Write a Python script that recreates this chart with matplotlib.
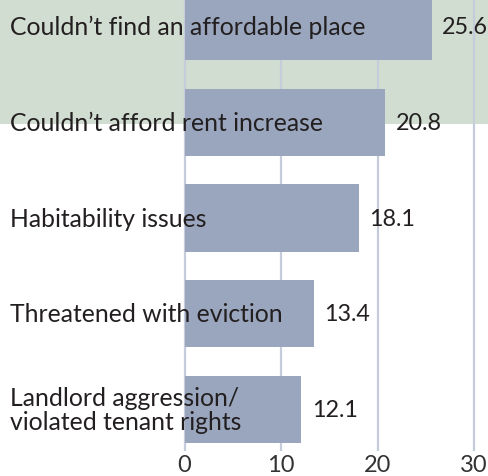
import matplotlib
matplotlib.use("Agg")
import matplotlib.pyplot as plt
from matplotlib.patches import Rectangle


CATEGORIES = [
    "Couldn\u2019t find an affordable place",
    "Couldn\u2019t afford rent increase",
    "Habitability issues",
    "Threatened with eviction",
    "Landlord aggression/\nviolated tenant rights",
]
VALUES = [25.6, 20.8, 18.1, 13.4, 12.1]
TICKS = [0, 10, 20, 30]

BAR_COLOR = "#9aa6bd"
GRID_COLOR = "#c6ccdc"
BAND_COLOR = "#d0ddd0"
TEXT_COLOR = "#231f20"
FONT = ["Lato", "DejaVu Sans"]
OUTPUT_PATH = "out.png"


def main():
    plt.rcParams["font.family"] = FONT

    fig = plt.figure(figsize=(4.89, 4.77), dpi=100)
    # axes fill the whole width; the category labels sit inside, left of zero
    ax = fig.add_axes([0, 25 / 477, 1, 452 / 477])
    ax.set_facecolor("none")

    ax.add_patch(Rectangle((0, 1 - 125 / 452), 1, 125 / 452, transform=ax.transAxes,
                           facecolor=BAND_COLOR, edgecolor="none", zorder=0))

    positions = list(range(len(VALUES)))
    for t in TICKS:
        ax.axvline(t, color=GRID_COLOR, linewidth=1.6, zorder=1)

    ax.barh(positions, VALUES, height=0.70, color=BAR_COLOR, zorder=2)

    for pos, label, value in zip(positions, CATEGORIES, VALUES):
        ax.text(-18.1, pos, label, ha="left", va="center", fontsize=17.8,
                color=TEXT_COLOR, linespacing=1.04, zorder=3)
        ax.annotate(f"{value:.1f}", xy=(value, pos), xytext=(7.5, 0),
                    textcoords="offset points", ha="left", va="center",
                    fontsize=16.8, color=TEXT_COLOR, zorder=3)

    ax.set_xlim(-19.12, 31.55)
    ax.set_ylim(4.433, -0.287)
    ax.set_xticks(TICKS)
    ax.set_xticklabels([str(t) for t in TICKS])
    ax.set_yticks([])
    ax.tick_params(axis="x", length=0, pad=2.5, labelsize=17, labelcolor="#333333")
    for spine in ax.spines.values():
        spine.set_visible(False)

    fig.savefig(OUTPUT_PATH, dpi=100)


if __name__ == "__main__":
    main()
